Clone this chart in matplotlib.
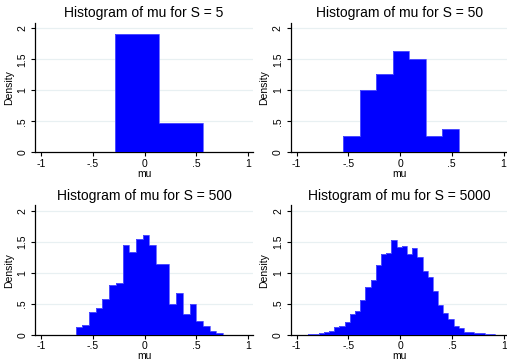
import numpy as np
import matplotlib
matplotlib.use("Agg")
import matplotlib.pyplot as plt

plt.rcParams['font.family'] = ['Liberation Sans', 'DejaVu Sans']

# sample sizes, one panel each
sizes = [5, 50, 500, 5000]

# lower edge and bin width for each histogram
bin_lo = [-0.285, -0.548, -0.666, -0.889]
bin_w = [0.4235, 0.1593, 0.0648, 0.0502]

# bar heights (density)
dens_5 = [1.90, 0.475]
dens_50 = [0.258, 1.01, 1.26, 1.63, 1.51, 0.258, 0.383]
dens_500 = [0.124, 0.156, 0.376, 0.43, 0.586, 0.80, 0.84, 1.45, 1.333, 1.548, 1.613,
            1.457, 1.15, 1.15, 0.495, 0.683, 0.344, 0.495, 0.22, 0.15, 0.065, 0.032]
dens_5000 = [0.016, 0.016, 0.027, 0.054, 0.07, 0.136, 0.14, 0.21, 0.34, 0.39, 0.57,
             0.77, 0.88, 1.13, 1.31, 1.33, 1.53, 1.42, 1.43, 1.31, 1.41, 1.25, 1.04,
             0.93, 0.71, 0.49, 0.353, 0.255, 0.152, 0.12, 0.054, 0.054, 0.027, 0.027,
             0.011, 0.016]
densities = [dens_5, dens_50, dens_500, dens_5000]

xticks = [-1, -0.5, 0, 0.5, 1]
xtick_labels = ['-1', '-.5', '0', '.5', '1']
yticks = [0, 0.5, 1, 1.5, 2]
ytick_labels = ['0', '.5', '1', '1.5', '2']

W, H = 507, 361
fig = plt.figure(figsize=(W / 100, H / 100), dpi=100)

# panel boxes in pixels: left, top, width, height
boxes = [(35, 22.7), (290.5, 22.7), (35, 205.4), (290.7, 205.4)]
bw, bh = 218, 129.6

for (left, top), n, lo, w, dens in zip(boxes, sizes, bin_lo, bin_w, densities):
    ax = fig.add_axes([left / W, 1 - (top + bh) / H, bw / W, bh / H])
    edges = lo + w * np.arange(len(dens) + 1)
    ax.stairs(dens, edges, fill=True, color='#0000ff', zorder=3)
    ax.stairs(dens, edges, color='#5a5aff', lw=0.6, zorder=4)

    ax.set_xlim(-1.058, 1.048)
    ax.set_ylim(0, 2.09)
    ax.set_xticks(xticks)
    ax.set_xticklabels(xtick_labels)
    ax.set_yticks(yticks)
    ax.set_yticklabels(ytick_labels, rotation=90, va='center')
    ax.tick_params(direction='out', length=3, width=0.8, labelsize=7.5, pad=1.5)
    ax.tick_params(axis='y', pad=2.5)

    for y in yticks[1:]:
        ax.axhline(y, color='#e8f0f2', lw=0.9, zorder=1)

    for s in ['top', 'right']:
        ax.spines[s].set_visible(False)
    for s in ['left', 'bottom']:
        ax.spines[s].set_linewidth(0.9)

    ax.set_xlabel('mu', fontsize=7.5, labelpad=0)
    ax.set_ylabel('Density', fontsize=7.5, labelpad=2.5)
    ax.set_title(f'Histogram of mu for S = {n}', fontsize=10, pad=4)

fig.savefig('out.png', dpi=100, facecolor='white')
